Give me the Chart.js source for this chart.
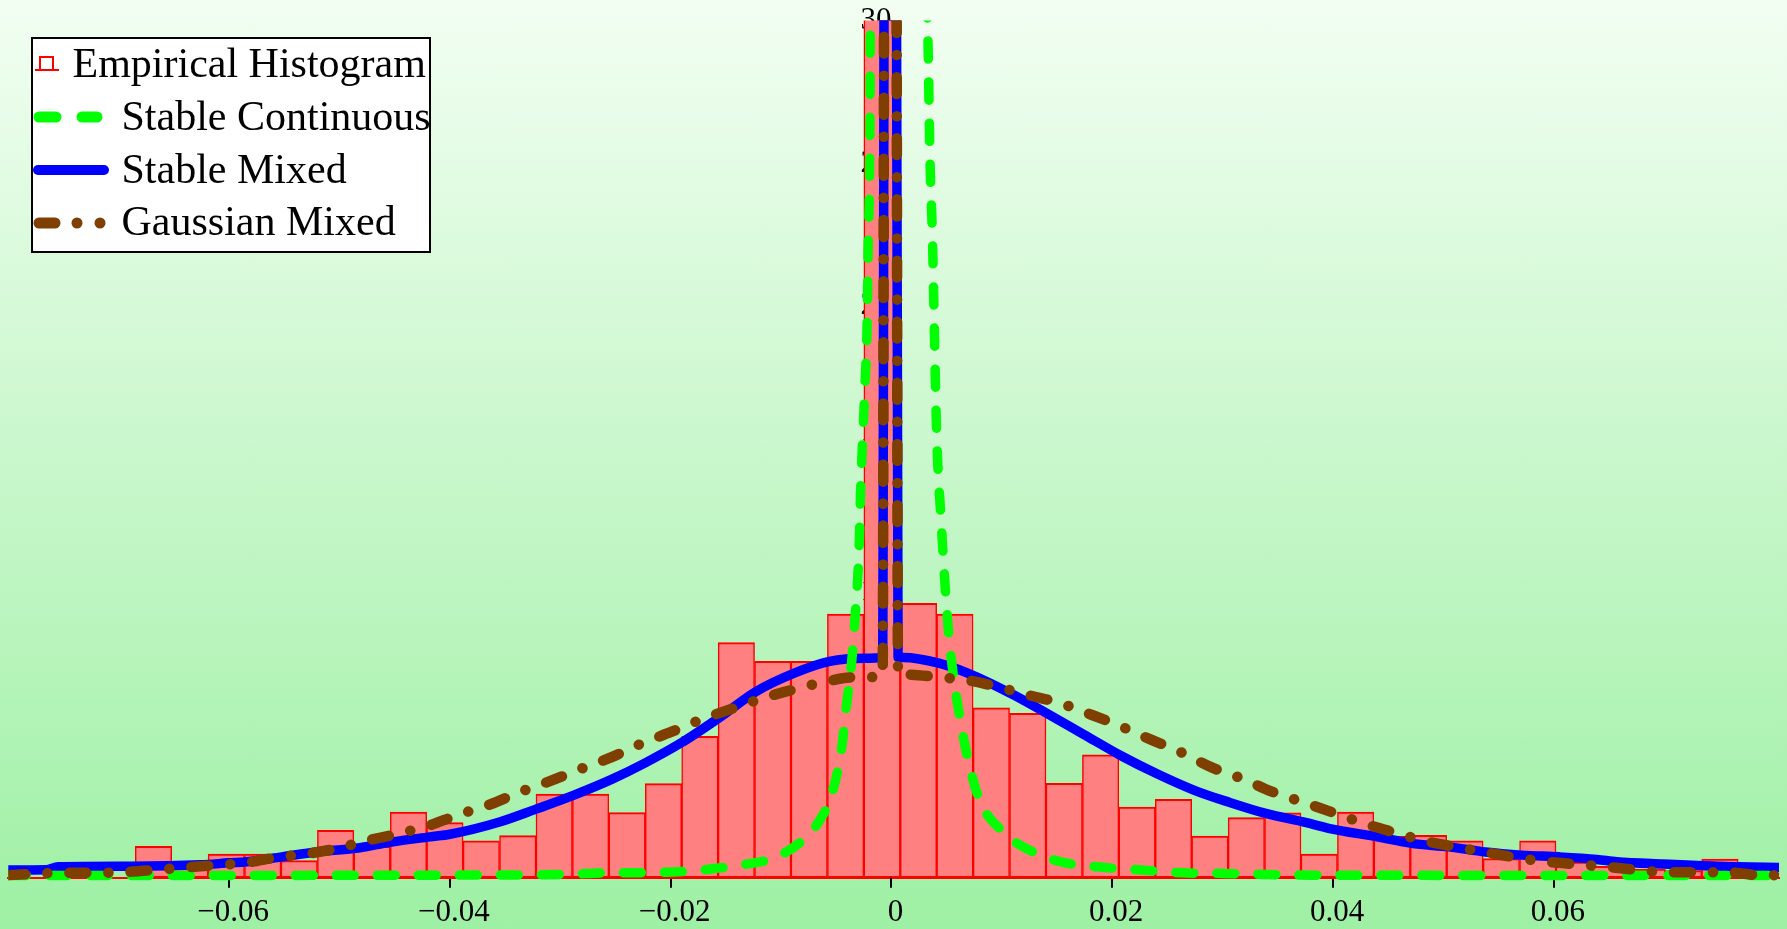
<!DOCTYPE html>
<html>
<head>
<meta charset="utf-8">
<script src="https://cdn.jsdelivr.net/npm/chart.js@4.4.1/dist/chart.umd.min.js"></script>
<style>
  html, body { margin: 0; padding: 0; }
  body {
    width: 1787px; height: 929px; overflow: hidden;
    background: linear-gradient(to bottom, #f2fef2 0%, #9ef0a4 100%);
  }
  canvas { display: block; }
</style>
</head>
<body>
<canvas id="chart" width="1787" height="929"></canvas>
<script>
// Series names, in legend order
const seriesNames = ['Empirical Histogram', 'Stable Continuous', 'Stable Mixed', 'Gaussian Mixed'];

// Histogram: bin centres (bin width 0.0033) and densities
const binCenters = [
  -0.06685, -0.06355, -0.06025, -0.05695, -0.05365, -0.05035, -0.04705, -0.04375, -0.04045,
  -0.03715, -0.03385, -0.03055, -0.02725, -0.02395, -0.02065, -0.01735, -0.01405, -0.01075,
  -0.00745, -0.00415, -0.00085, 0.00245, 0.00575, 0.00905, 0.01235, 0.01565, 0.01895,
  0.02225, 0.02555, 0.02885, 0.03215, 0.03545, 0.03875, 0.04205, 0.04535, 0.04865,
  0.05195, 0.05525, 0.05855, 0.06185, 0.06515, 0.06845, 0.07175, 0.07505, 0.07835
];
const binHeights = [
  1.10, 0.35, 0.83, 0.83, 0.60, 1.66, 1.10, 2.30, 1.93,
  1.29, 1.47, 2.93, 2.93, 2.28, 3.29, 4.95, 8.23, 7.57,
  7.57, 9.23, 31.0, 9.60, 9.23, 5.95, 5.75, 3.30, 4.30,
  2.47, 2.74, 1.46, 2.10, 2.27, 0.83, 2.30, 1.45, 1.48,
  1.29, 0.67, 1.29, 0.55, 0.40, 0.30, 0.25, 0.65, 0.20
];

// Stable continuous density
const continuousX = [
  -0.0800, -0.0600, -0.0409, -0.0334, -0.0296, -0.0258, -0.0220, -0.0181, -0.0143, -0.0104,
  -0.0077, -0.0065, -0.0054, -0.0045, -0.0041, -0.0036, -0.0033, -0.0029, -0.0028, -0.00266,
  -0.0024, -0.0022, -0.0021, -0.00197, -0.0019, 0.0007, 0.0032, 0.0033, 0.0035, 0.0037,
  0.0041, 0.0045, 0.0049, 0.0052, 0.0056, 0.0062, 0.0069, 0.0080, 0.0101, 0.0110,
  0.0149, 0.0187, 0.0226, 0.0264, 0.0300, 0.0379, 0.0600, 0.0804
];
const continuousY = [
  0.08, 0.08, 0.09, 0.10, 0.12, 0.17, 0.18, 0.24, 0.41, 0.73,
  1.43, 2.01, 2.93, 4.56, 5.95, 7.57, 9.08, 11.86, 13.48, 14.86,
  17.2, 19.4, 22.3, 25.2, 31.0, 62.0, 31.0, 29.5, 25.0, 22.6,
  15.5, 12.5, 10.0, 8.5, 7.1, 5.6, 4.2, 2.7, 1.6, 1.3,
  0.60, 0.38, 0.27, 0.17, 0.15, 0.09, 0.08, 0.08
];

// Stable mixed density (with the point mass at zero)
const stableMixedX = [
  -0.0800, -0.0765, -0.0755, -0.0690, -0.0626, -0.0600, -0.0584, -0.0552, -0.0521, -0.0485,
  -0.0453, -0.0418, -0.0400, -0.0355, -0.0322, -0.0287, -0.0253, -0.0223, -0.0190, -0.0156,
  -0.0122, -0.0088, -0.0056, -0.0024, -0.0008, -0.0006, 0.0004, 0.0006, 0.00105, 0.0043,
  0.0076, 0.0110, 0.0140, 0.0174, 0.0208, 0.0241, 0.0275, 0.0306, 0.0340, 0.0373,
  0.0397, 0.0440, 0.0471, 0.0505, 0.0538, 0.0571, 0.0605, 0.0639, 0.0657, 0.0699,
  0.0768, 0.0804
];
const stableMixedY = [
  0.27, 0.28, 0.38, 0.40, 0.45, 0.52, 0.56, 0.73, 0.90, 1.03,
  1.25, 1.43, 1.52, 1.95, 2.40, 2.90, 3.45, 4.02, 4.73, 5.60,
  6.53, 7.16, 7.57, 7.68, 7.72, 40.0, 40.0, 7.72, 7.71, 7.51,
  7.05, 6.41, 5.77, 5.02, 4.27, 3.63, 3.05, 2.64, 2.24, 1.95,
  1.72, 1.43, 1.20, 1.08, 0.90, 0.79, 0.73, 0.64, 0.56, 0.48,
  0.38, 0.36
];

// Gaussian mixed density (with the point mass at zero)
const gaussMixedX = [
  -0.0800, -0.0749, -0.0722, -0.0694, -0.0667, -0.0639, -0.0611, -0.0584, -0.0557, -0.0530,
  -0.0503, -0.0476, -0.0447, -0.0420, -0.0394, -0.0364, -0.0337, -0.0310, -0.0282, -0.0254,
  -0.0228, -0.0199, -0.0172, -0.0144, -0.0116, -0.0089, -0.0062, -0.0035, -0.0008, -0.0006,
  0.0004, 0.0006, 0.0014, 0.0042, 0.0069, 0.0097, 0.0125, 0.0152, 0.0180, 0.0207,
  0.0234, 0.0263, 0.0290, 0.0317, 0.0344, 0.0373, 0.0403, 0.0427, 0.0454, 0.0483,
  0.0510, 0.0537, 0.0565, 0.0593, 0.0620, 0.0648, 0.0675, 0.0703, 0.0758, 0.0787,
  0.0804
];
const gaussMixedY = [
  0.09, 0.17, 0.17, 0.20, 0.27, 0.36, 0.44, 0.53, 0.71, 0.83,
  1.02, 1.29, 1.54, 1.81, 2.18, 2.56, 2.99, 3.37, 3.80, 4.21,
  4.67, 5.11, 5.54, 5.92, 6.29, 6.58, 6.84, 7.01, 7.05, 40.0,
  40.0, 7.08, 7.11, 7.02, 6.91, 6.67, 6.38, 6.12, 5.72, 5.31,
  4.85, 4.38, 3.86, 3.48, 3.02, 2.64, 2.24, 1.91, 1.60, 1.29,
  1.08, 0.90, 0.71, 0.56, 0.47, 0.38, 0.27, 0.19, 0.19, 0.09,
  0.09
];

// Axis ticks
const xTicks = [-0.06, -0.04, -0.02, 0, 0.02, 0.04, 0.06];
const xTickLabels = ['\u22120.06', '\u22120.04', '\u22120.02', '0', '0.02', '0.04', '0.06'];
const yTicks = [5, 10, 15, 20, 25, 30];
const yTickLabels = ['5', '10', '15', '20', '25', '30'];

const SERIF = '"Liberation Serif", "Times New Roman", serif';
const GREEN = '#00ff00', BLUE = '#0000ff', BROWN = '#7f3f00', RED = '#ff0000', PINK = '#ff8080';

const toPoints = (xs, ys) => xs.map((x, i) => ({ x, y: ys[i] }));
const labelFor = (ticks, labels) => (v) => {
  const i = ticks.findIndex(t => Math.abs(t - v) < 1e-9);
  return i >= 0 ? labels[i] : '';
};

// Boxed legend in the upper left corner
const boxedLegend = {
  id: 'boxedLegend',
  afterDraw(chart) {
    const ctx = chart.ctx;
    ctx.save();
    ctx.fillStyle = '#ffffff';
    ctx.fillRect(32, 38, 398, 214);
    ctx.lineWidth = 2;
    ctx.strokeStyle = '#000000';
    ctx.strokeRect(32, 38, 398, 214);

    // histogram glyph
    ctx.strokeStyle = RED;
    ctx.lineWidth = 2;
    ctx.lineCap = 'butt';
    ctx.beginPath();
    ctx.moveTo(35, 70); ctx.lineTo(59, 70);
    ctx.moveTo(40, 70); ctx.lineTo(40, 57); ctx.lineTo(53, 57); ctx.lineTo(53, 70);
    ctx.stroke();

    ctx.lineCap = 'round';
    // dashed green sample
    ctx.strokeStyle = GREEN; ctx.lineWidth = 11;
    ctx.beginPath();
    ctx.moveTo(39, 117); ctx.lineTo(56, 117);
    ctx.moveTo(82, 117); ctx.lineTo(97, 117);
    ctx.stroke();
    // solid blue sample
    ctx.strokeStyle = BLUE; ctx.lineWidth = 10;
    ctx.beginPath();
    ctx.moveTo(38, 170); ctx.lineTo(104, 170);
    ctx.stroke();
    // dash-dot brown sample
    ctx.strokeStyle = BROWN; ctx.lineWidth = 11;
    ctx.beginPath();
    ctx.moveTo(39, 223); ctx.lineTo(55, 223);
    ctx.stroke();
    ctx.fillStyle = BROWN;
    [77, 100].forEach(cx => { ctx.beginPath(); ctx.arc(cx, 223, 5.5, 0, Math.PI * 2); ctx.fill(); });

    ctx.fillStyle = '#000000';
    ctx.font = '42px ' + SERIF;
    ctx.textBaseline = 'alphabetic';
    ctx.textAlign = 'left';
    ctx.fillText(seriesNames[0], 72.5, 77);
    ctx.fillText(seriesNames[1], 121.5, 130);
    ctx.fillText(seriesNames[2], 121.5, 182.5);
    ctx.fillText(seriesNames[3], 121.5, 235);
    ctx.restore();
  }
};

const lineClip = { left: 0, top: 0, right: 0, bottom: 8 };

new Chart(document.getElementById('chart'), {
  type: 'bar',
  data: {
    datasets: [
      {
        type: 'line', label: seriesNames[3], data: toPoints(gaussMixedX, gaussMixedY),
        borderColor: BROWN, borderWidth: 10.5, borderDash: [17, 22, 0.1, 22],
        borderCapStyle: 'round', borderJoinStyle: 'round', cubicInterpolationMode: 'monotone',
        pointRadius: 0, fill: false, clip: lineClip, order: 0
      },
      {
        type: 'line', label: seriesNames[1], data: toPoints(continuousX, continuousY),
        borderColor: GREEN, borderWidth: 9.5, borderDash: [18, 23],
        borderCapStyle: 'round', borderJoinStyle: 'round', cubicInterpolationMode: 'monotone',
        pointRadius: 0, fill: false, clip: lineClip, order: 1
      },
      {
        type: 'line', label: seriesNames[2], data: toPoints(stableMixedX, stableMixedY),
        borderColor: BLUE, borderWidth: 9.5,
        borderCapStyle: 'round', borderJoinStyle: 'round', cubicInterpolationMode: 'monotone',
        pointRadius: 0, fill: false, clip: lineClip, order: 2
      },
      {
        type: 'bar', label: seriesNames[0],
        data: binCenters.map((x, i) => ({ x, y: binHeights[i] })),
        backgroundColor: PINK, borderColor: RED,
        borderWidth: { top: 2, left: 1.5, right: 1.5, bottom: 2 }, borderSkipped: false,
        barPercentage: 1, categoryPercentage: 1, clip: { left: 0, top: 0, right: 0, bottom: 0 }, order: 3
      }
    ]
  },
  options: {
    responsive: false,
    animation: false,
    devicePixelRatio: 1,
    layout: { padding: { left: 8.3, right: 8, top: 14.5, bottom: 0 } },
    plugins: { legend: { display: false }, tooltip: { enabled: false } },
    scales: {
      x: {
        type: 'linear', min: -0.08, max: 0.0804, offset: false,
        afterBuildTicks: (s) => { s.ticks = xTicks.map(v => ({ value: v })); },
        afterFit: (s) => { s.height = 51.3; },
        grid: { drawOnChartArea: false, drawTicks: true, tickLength: 10, color: '#000000', lineWidth: 2, offset: false },
        border: { display: true, color: RED, width: 2 },
        ticks: {
          color: '#000000', font: { family: SERIF, size: 31 }, padding: 7, labelOffset: 4,
          maxRotation: 0, autoSkip: false, callback: labelFor(xTicks, xTickLabels)
        }
      },
      y: {
        type: 'linear', min: 0, max: 30, position: { x: 0 },
        afterBuildTicks: (s) => { s.ticks = yTicks.map(v => ({ value: v })); },
        grid: { drawOnChartArea: false, drawTicks: true, tickLength: 10, color: '#000000', lineWidth: 2 },
        border: { display: true, color: '#000000', width: 2 },
        ticks: {
          color: '#000000', font: { family: SERIF, size: 31 }, padding: 2,
          autoSkip: false, callback: labelFor(yTicks, yTickLabels)
        }
      }
    }
  },
  plugins: [boxedLegend]
});
</script>
</body>
</html>
